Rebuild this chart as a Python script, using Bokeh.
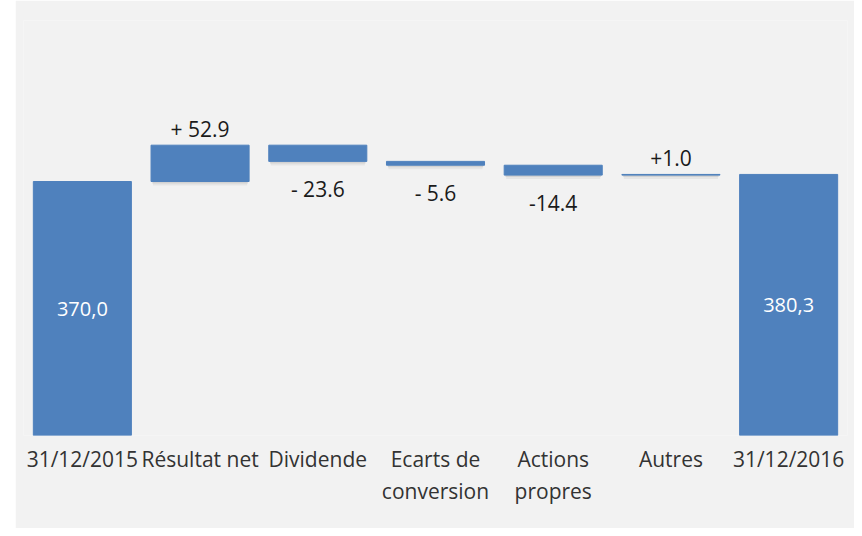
from bokeh.plotting import figure
from bokeh.models import (FactorRange, Range1d, ColumnDataSource, CategoricalAxis, Spacer,
                          Row, CustomJSTickFormatter)
from bokeh.core.properties import value
from bokeh.embed import file_html
from bokeh.resources import INLINE

# ---- data ----
categories = ["31/12/2015", "Résultat net", "Dividende", "Ecarts de conversion",
              "Actions propres", "Autres", "31/12/2016"]
tick_line1 = ["31/12/2015", "Résultat net", "Dividende", "Ecarts de",
              "Actions", "Autres", "31/12/2016"]
tick_line2 = ["", "", "", "conversion", "propres", "", ""]
start_value = 370.0
deltas = [52.9, -23.6, -5.6, -14.4, 1.0]
end_value = 380.3
delta_labels = ["+ 52.9", "- 23.6", "- 5.6", "-14.4", "+1.0"]
total_labels = ["370,0", "380,3"]

# ---- waterfall geometry from data ----
bottoms = [0.0]
tops = [start_value]
running = start_value
for d in deltas:
    bottoms.append(min(running, running + d))
    tops.append(max(running, running + d))
    running += d
bottoms.append(0.0)
tops.append(end_value)

BLUE = "#4f81bd"
BG = "#f2f2f2"
FONT = "Open Sans"

px_per_unit = 254 / 370.0   # layout scale
frame_h = 415

bar_src = ColumnDataSource(dict(x=categories, top=tops, bottom=bottoms))

# soft shadow under the floating bars
sh_x = categories[1:-1]
sh1 = ColumnDataSource(dict(x=sh_x, top=bottoms[1:-1],
                            bottom=[b - 2 / px_per_unit for b in bottoms[1:-1]]))
sh2 = ColumnDataSource(dict(x=sh_x, top=[b - 2 / px_per_unit for b in bottoms[1:-1]],
                            bottom=[b - 4 / px_per_unit for b in bottoms[1:-1]]))

delta_cats = categories[1:-1]
d_y = []
d_off = []
for i, d in enumerate(deltas):
    if d >= 0:
        d_y.append(tops[i + 1]); d_off.append(-16)
    else:
        d_y.append(bottoms[i + 1]); d_off.append(28)
delta_src = ColumnDataSource(dict(x=delta_cats, y=d_y, text=delta_labels, yo=d_off))

tot_src = ColumnDataSource(dict(
    x=[categories[0], categories[-1]],
    y=[(tops[0] + bottoms[0]) / 2, (tops[-1] + bottoms[-1]) / 2],
    text=total_labels))

W, H = 839, 528
p = figure(width=W, height=H, output_backend="svg", toolbar_location=None,
           x_range=FactorRange(factors=categories, range_padding=0),
           y_range=Range1d(0, frame_h / px_per_unit),
           min_border_left=8, min_border_right=7, min_border_top=20, min_border_bottom=93)
p.background_fill_color = BG
p.border_fill_color = BG
p.outline_line_color = None
p.xgrid.grid_line_color = None
p.ygrid.grid_line_color = None
p.yaxis.visible = False

p.vbar(x="x", top="top", bottom="bottom", width=0.81, source=sh1,
       fill_color="#000000", fill_alpha=0.13, line_color=None)
p.vbar(x="x", top="top", bottom="bottom", width=0.80, source=sh2,
       fill_color="#000000", fill_alpha=0.05, line_color=None)
p.vbar(x="x", top="top", bottom="bottom", width=0.833, source=bar_src,
       fill_color=BLUE, line_color=BLUE, line_width=1)

p.text(x="x", y="y", text="text", y_offset="yo", source=delta_src,
       text_font=value(FONT), text_font_size="21px", text_color="#1a1a1a",
       text_align="center", text_baseline="middle")
p.text(x="x", y="y", text="text", source=tot_src,
       text_font=value(FONT), text_font_size="20px", text_color="white",
       text_align="center", text_baseline="middle")


def style_axis(ax, standoff, labels):
    ax.axis_line_color = None
    ax.major_tick_line_color = None
    ax.minor_tick_line_color = None
    ax.major_tick_out = 0
    ax.major_tick_in = 0
    ax.major_label_standoff = standoff
    ax.major_label_text_font = FONT
    ax.major_label_text_font_size = "21px"
    ax.major_label_text_color = "#333333"
    ax.formatter = CustomJSTickFormatter(
        args=dict(cats=categories, labs=labels),
        code="const i = cats.indexOf(tick); return i >= 0 ? labs[i] : tick;")


style_axis(p.xaxis[0], 9, tick_line1)
ax2 = CategoricalAxis()
style_axis(ax2, 1, tick_line2)
p.add_layout(ax2, "below")

layout = Row(Spacer(width=15, height=H), p, spacing=0)
open("out.html", "w").write(file_html(layout, INLINE))
